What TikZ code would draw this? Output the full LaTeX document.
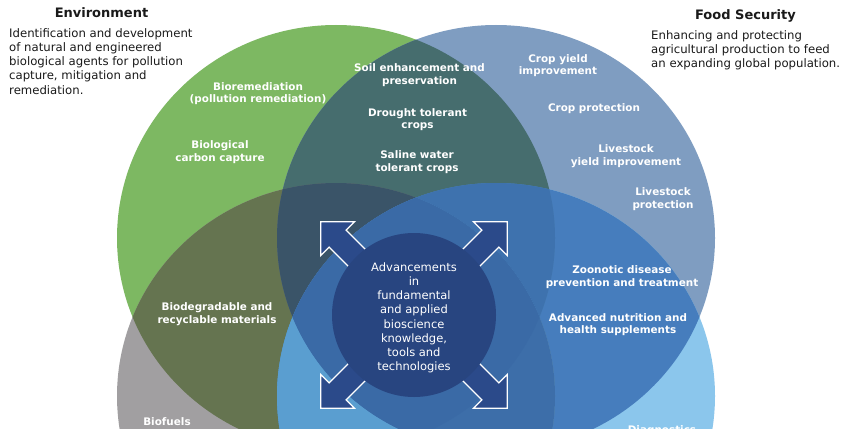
\documentclass[tikz,border=0pt]{standalone}
\usepackage{fontspec}
\setmainfont{DejaVu Sans}
\definecolor{cG}{HTML}{7DB862}
\definecolor{cB}{HTML}{7F9DC1}
\definecolor{cY}{HTML}{A19FA1}
\definecolor{cL}{HTML}{8BC6EC}
\definecolor{cGB}{HTML}{466D6E}
\definecolor{cGY}{HTML}{657450}
\definecolor{cBL}{HTML}{467DBD}
\definecolor{cGL}{HTML}{4A80B4}
\definecolor{cBY}{HTML}{5A6E84}
\definecolor{cYL}{HTML}{5A9ED0}
\definecolor{cGBY}{HTML}{3A5468}
\definecolor{cGBL}{HTML}{3E72AE}
\definecolor{cGYL}{HTML}{5A9ED0}
\definecolor{cBYL}{HTML}{3D6EA9}
\definecolor{cGBYL}{HTML}{3A6AA6}
\definecolor{arrowc}{HTML}{2B4A8A}
\definecolor{corec}{HTML}{284580}
\definecolor{inkc}{HTML}{1A1A1A}
\newcommand\ellG[1]{#1 (336,238) ellipse [x radius=219pt,y radius=213pt];}
\newcommand\ellB[1]{#1 (496,238) ellipse [x radius=219pt,y radius=213pt];}
\newcommand\ellY[1]{#1 (336,396) ellipse [x radius=219pt,y radius=213pt];}
\newcommand\ellL[1]{#1 (496,396) ellipse [x radius=219pt,y radius=213pt];}
\begin{document}
\begin{tikzpicture}[x=1pt,y=-1pt,
  lab/.style={text=white,font=\fontsize{10.4}{12.5}\selectfont\bfseries,align=center,inner sep=0pt},
  desc/.style={text=inkc,font=\fontsize{11.7}{14.3}\selectfont,align=left,inner sep=0pt,anchor=north west},
  ttl/.style={text=inkc,font=\fontsize{13}{15}\selectfont\bfseries,inner sep=0pt,anchor=base},
  arr/.style={fill=arrowc,draw=white,line width=1.3pt,line join=miter}]
\useasboundingbox (0,0) rectangle (850,428);
\fill[white] (0,0) rectangle (850,428);
\begin{scope}
\clip (0,0) rectangle (850,428);
% single circles
\ellG{\fill[cG]}
\ellB{\fill[cB]}
\ellY{\fill[cY]}
\ellL{\fill[cL]}
% pairs
\begin{scope}\ellG{\clip}\ellB{\fill[cGB]}\end{scope}
\begin{scope}\ellG{\clip}\ellY{\fill[cGY]}\end{scope}
\begin{scope}\ellB{\clip}\ellL{\fill[cBL]}\end{scope}
\begin{scope}\ellG{\clip}\ellL{\fill[cGL]}\end{scope}
\begin{scope}\ellB{\clip}\ellY{\fill[cBY]}\end{scope}
\begin{scope}\ellY{\clip}\ellL{\fill[cYL]}\end{scope}
% triples
\begin{scope}\ellG{\clip}\ellB{\clip}\ellY{\fill[cGBY]}\end{scope}
\begin{scope}\ellG{\clip}\ellB{\clip}\ellL{\fill[cGBL]}\end{scope}
\begin{scope}\ellG{\clip}\ellY{\clip}\ellL{\fill[cGYL]}\end{scope}
\begin{scope}\ellB{\clip}\ellY{\clip}\ellL{\fill[cBYL]}\end{scope}
% all four
\begin{scope}\ellG{\clip}\ellB{\clip}\ellY{\clip}\ellL{\fill[cGBYL]}\end{scope}
% arrows
\begin{scope}[shift={(414,315)},rotate=45]
\draw[arr] (-132,0) -- (-108,24) -- (-108,12) -- (108,12) -- (108,24) -- (132,0) -- (108,-24) -- (108,-12) -- (-108,-12) -- (-108,-24) -- cycle;
\end{scope}
\begin{scope}[shift={(414,315)},rotate=-45]
\draw[arr] (-132,0) -- (-108,24) -- (-108,12) -- (108,12) -- (108,24) -- (132,0) -- (108,-24) -- (108,-12) -- (-108,-12) -- (-108,-24) -- cycle;
\end{scope}
\fill[corec] (414,315) circle [radius=82pt];
% titles and descriptions
\node[ttl] (envt) at (101.5,17.8) {Environment};
\node[desc] (envd) at (9,28) {Identification and development\\of natural and engineered\\biological agents for pollution\\capture, mitigation and\\remediation.};
\node[ttl] (foodt) at (745.5,20) {Food Security};
\node[desc] (foodd) at (651,30) {Enhancing and protecting\\agricultural production to feed\\an expanding global population.};
% labels
\node[lab] (l1) at (258,93.5) {Bioremediation\\(pollution remediation)};
\node[lab] (l2) at (220,152) {Biological\\carbon capture};
\node[lab] (l3) at (419.5,75.3) {Soil enhancement and\\preservation};
\node[lab] (l4) at (417.5,119.7) {Drought tolerant\\crops};
\node[lab] (l5) at (417,162.2) {Saline water\\tolerant crops};
\node[lab] (l6) at (558,65.8) {Crop yield\\improvement};
\node[lab] (l7) at (594,108.3) {Crop protection};
\node[lab] (l8) at (626,156.2) {Livestock\\yield improvement};
\node[lab] (l9) at (663,199.2) {Livestock\\protection};
\node[lab] (l10) at (622,277.3) {Zoonotic disease\\prevention and treatment};
\node[lab] (l11) at (618,324.8) {Advanced nutrition and\\health supplements};
\node[lab] (l12) at (217,314.3) {Biodegradable and\\recyclable materials};
\node[lab] (l13) at (167,421.3) {Biofuels};
\node[lab,anchor=north] (l14) at (662,425.5) {Diagnostics};
\node[text=white,font=\fontsize{11.5}{14.14}\selectfont,align=center,inner sep=0pt] (core) at (414,317.8) {Advancements\\in\\fundamental\\and applied\\bioscience\\knowledge,\\tools and\\technologies};
\end{scope}
\end{tikzpicture}
\end{document}
